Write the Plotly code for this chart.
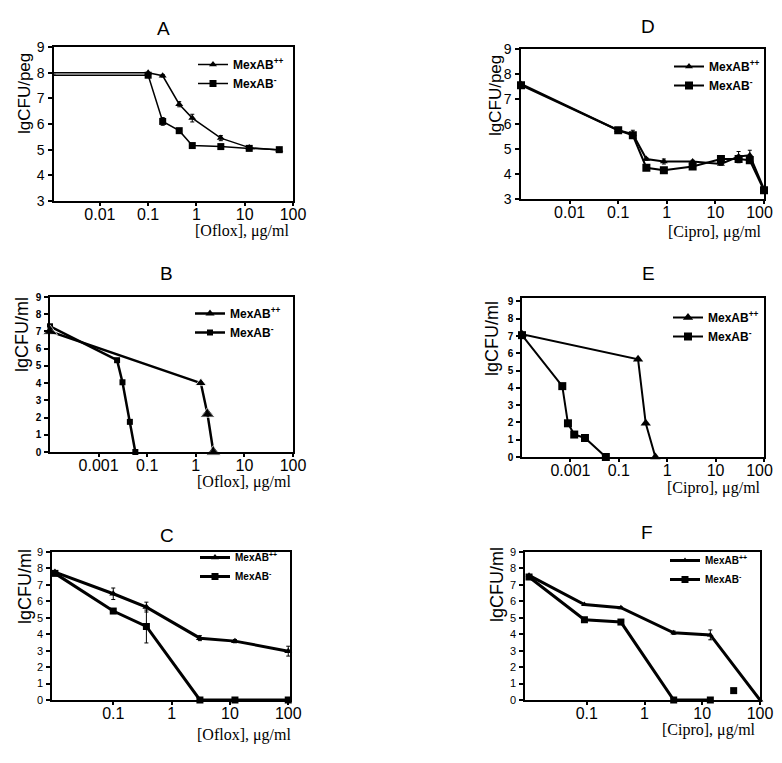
import plotly.graph_objects as go

# page is 782x763; the html body adds an 8px margin round the figure
OFF = 8
W, H = 782 - 2 * OFF, 763 - 2 * OFF

# ---------------- data ----------------
# Panel A  (Oflox, lgCFU/peg)
A_conc = [0.0011, 0.1, 0.2, 0.44, 0.82, 3.2, 12.4, 52]
A_pp = [8.0, 8.0, 7.88, 6.77, 6.23, 5.45, 5.08, 4.99]
A_pp_err = [0, 0, 0.05, 0.1, 0.15, 0.1, 0.05, 0.05]
A_m = [7.9, 7.9, 6.1, 5.74, 5.16, 5.12, 5.05, 5.0]
A_m_err = [0, 0.05, 0.15, 0.08, 0.05, 0.05, 0.05, 0.08]

# Panel D  (Cipro, lgCFU/peg)
D_conc = [0.001, 0.1, 0.2, 0.38, 0.87, 3.4, 13, 30, 51, 100]
D_pp = [7.6, 5.75, 5.6, 4.6, 4.5, 4.5, 4.4, 4.7, 4.75, 3.4]
D_pp_err = [0, 0.05, 0.15, 0.05, 0.1, 0.05, 0.05, 0.2, 0.2, 0.05]
D_m = [7.55, 5.75, 5.55, 4.25, 4.15, 4.3, 4.6, 4.6, 4.55, 3.35]
D_m_err = [0, 0.05, 0.1, 0.05, 0.05, 0.05, 0.05, 0.15, 0.1, 0.05]

# Panel B  (Oflox, lgCFU/ml)
B_conc_pp = [0.001, 1.27, 1.74, 2.3]
B_pp = [7.0, 4.0, 2.2, 0.0]
B_conc_m = [0.001, 0.024, 0.031, 0.044, 0.057]
B_m = [7.3, 5.33, 4.05, 1.75, 0.0]

# Panel E  (Cipro, lgCFU/ml)
E_conc_pp = [0.001, 0.25, 0.36, 0.57]
E_pp = [7.1, 5.65, 1.95, 0.0]
E_conc_m = [0.001, 0.0068, 0.0089, 0.012, 0.020, 0.054]
E_m = [7.05, 4.1, 1.95, 1.3, 1.1, 0.0]

# Panel C  (Oflox, lgCFU/ml)
C_conc = [0.01, 0.1, 0.37, 3.06, 12.2, 100]
C_pp = [7.78, 6.46, 5.65, 3.76, 3.58, 2.97]
C_pp_err = [0, 0.35, 0.3, 0.15, 0.1, 0.3]
C_m = [7.7, 5.41, 4.47, 0.0, 0.0, 0.0]
C_m_err = [0, 0.1, 1.0, 0, 0, 0]

# Panel F  (Cipro, lgCFU/ml)
F_conc_pp = [0.01, 0.091, 0.39, 3.2, 13.8, 100]
F_pp = [7.58, 5.81, 5.61, 4.09, 3.96, 0.0]
F_pp_err = [0, 0.05, 0.05, 0.1, 0.3, 0]
F_conc_m = [0.01, 0.091, 0.39, 3.2, 13.8, 35]
F_m = [7.48, 4.88, 4.74, 0.0, 0.0, 0.57]

# tick labels
TICKS_AD = [0.01, 0.1, 1, 10, 100]
TICKTEXT_A = ["0.01", "0.1", "1", "10", "100"]
TICKTEXT_D = ["0.01", "0.1", "1", "10", "100&nbsp;&nbsp;"]
TICKTEXT_B = ["0.001", "0.1", "1", "10", "100"]
TICKTEXT_E = ["0.001", "0.1", "1", "10", "100&nbsp;&nbsp;"]
TICKS_CF = [0.1, 1, 10, 100]
TICKTEXT_CF = ["0.1", "1", "10", "100"]

NAME_PP = "MexAB<sup>++</sup>"
NAME_M = "MexAB<sup>-</sup>"

SANS = "Liberation Sans, Arial, sans-serif"
SERIF = "Liberation Serif, Times New Roman, serif"


def fx(px):
    return (px - OFF) / W


def fy(py):
    return 1 - (py - OFF) / H


# positions below are page pixels
panels = [
    dict(key="A", dom=(54, 293, 47, 201), xr=(-2.95, 2.0), yr=(3, 9), xt=TICKS_AD, xtt=TICKTEXT_A,
         yt=list(range(3, 10)), ytf=dict(size=14, family=SANS, color="black"),
         title=(163, 28), ytitle=("lgCFU/peg", 25, 94, 17), xtitle=("[Oflox], μg/ml", 291, 231),
         leg=(193, 50, 12)),
    dict(key="B", dom=(50, 293, 297, 452), xr=(-3, 2), yr=(0, 9), xt=TICKS_AD, xtt=TICKTEXT_B,
         yt=list(range(0, 10)), ytf=dict(size=10, family=SANS, color="black", weight="bold"),
         title=(166, 273), ytitle=("lgCFU/ml", 22, 335, 18), xtitle=("[Oflox], μg/ml", 293, 482),
         leg=(190, 299, 12)),
    dict(key="C", dom=(52, 290, 552, 700), xr=(-2.05, 2.03), yr=(0, 9), xt=TICKS_CF, xtt=TICKTEXT_CF,
         yt=list(range(0, 10)), ytf=dict(size=11, family=SANS, color="black"),
         title=(167, 535), ytitle=("lgCFU/ml", 25, 587, 18), xtitle=("[Oflox], μg/ml", 293, 735),
         leg=(195, 543, 10)),
    dict(key="D", dom=(521, 764, 49, 199), xr=(-3, 2), yr=(3, 9), xt=TICKS_AD, xtt=TICKTEXT_D,
         yt=list(range(3, 10)), ytf=dict(size=14, family=SANS, color="black"),
         title=(648, 27), ytitle=("lgCFU/peg", 495, 96, 17), xtitle=("[Cipro], μg/ml", 764, 232),
         leg=(669, 52, 12)),
    dict(key="E", dom=(522, 764, 298, 457), xr=(-3, 2), yr=(0, 9.2), xt=TICKS_AD, xtt=TICKTEXT_E,
         yt=list(range(0, 10)), ytf=dict(size=10, family=SANS, color="black", weight="bold"),
         title=(648, 273), ytitle=("lgCFU/ml", 492, 339, 18), xtitle=("[Cipro], μg/ml", 763, 488),
         leg=(668, 303, 12)),
    dict(key="F", dom=(525, 760, 552, 700), xr=(-2.07, 2.0), yr=(0, 9), xt=TICKS_CF, xtt=TICKTEXT_CF,
         yt=list(range(0, 10)), ytf=dict(size=11, family=SANS, color="black"),
         title=(647, 532), ytitle=("lgCFU/ml", 497, 585, 18), xtitle=("[Cipro], μg/ml", 758, 730),
         leg=(665, 546, 10)),
]

fig = go.Figure()
layout = dict(width=W, height=H, margin=dict(l=0, r=0, t=0, b=0, autoexpand=False),
              paper_bgcolor="white", plot_bgcolor="white", showlegend=True)
annotations = []

for i, p in enumerate(panels, start=1):
    sfx = "" if i == 1 else str(i)
    x0, x1, y0, y1 = p["dom"]
    common_x = dict(type="log", range=list(p["xr"]), domain=[fx(x0), fx(x1)],
                    tickmode="array", tickvals=p["xt"], showgrid=False, zeroline=False)
    common_y = dict(range=list(p["yr"]), domain=[fy(y1), fy(y0)], tickmode="array",
                    tickvals=p["yt"], showgrid=False, zeroline=False)
    layout["xaxis" + sfx] = dict(common_x, anchor="y" + sfx, ticktext=p["xtt"], ticks="outside",
                                 ticklen=3, tickwidth=1.5, tickcolor="black", showline=True,
                                 linecolor="black", linewidth=1.5, mirror=True,
                                 ticklabelstandoff=-5, ticklabeloverflow="allow",
                                 tickfont=dict(size=16, family=SANS, color="black"))
    layout["yaxis" + sfx] = dict(common_y, anchor="x" + sfx, ticktext=[str(v) for v in p["yt"]],
                                 ticks="outside", ticklen=4, tickwidth=1.5, tickcolor="black",
                                 showline=True, linecolor="black", linewidth=1.5, mirror=True,
                                 tickfont=p["ytf"], ticklabelstandoff=1)
    # overlay axes giving the inner half of crossing tick marks
    j = i + 6
    layout["xaxis%d" % j] = dict(common_x, overlaying="x" + sfx, anchor="y" + sfx, ticks="inside",
                                 ticklen=4, tickwidth=1.5, tickcolor="black", showticklabels=False,
                                 showline=False)
    layout["yaxis%d" % j] = dict(common_y, overlaying="y" + sfx, anchor="x" + sfx, ticks="inside",
                                 ticklen=4, tickwidth=1.5, tickcolor="black", showticklabels=False,
                                 showline=False)
    lg = "legend" + sfx
    lx, ly, lfs = p["leg"]
    layout[lg] = dict(x=fx(lx), y=fy(ly), xanchor="left", yanchor="top", bgcolor="rgba(0,0,0,0)",
                      font=dict(size=lfs, family=SANS, color="black", weight="bold"),
                      tracegroupgap=0, itemwidth=30)
    tx, ty = p["title"]
    annotations.append(dict(text=p["key"], x=fx(tx), y=fy(ty), xref="paper", yref="paper",
                            xanchor="center", yanchor="middle",
                            showarrow=False, font=dict(size=19, family=SANS, color="black")))
    yt_text, ytx, yty, yfs = p["ytitle"]
    annotations.append(dict(text=yt_text, x=fx(ytx), y=fy(yty), xref="paper", yref="paper",
                            xanchor="center", yanchor="middle",
                            showarrow=False, textangle=-90,
                            font=dict(size=yfs, family=SANS, color="black")))
    xt_text, xtx, xty = p["xtitle"]
    annotations.append(dict(text=xt_text, x=fx(xtx), y=fy(xty), xref="paper", yref="paper",
                            xanchor="right", yanchor="middle", showarrow=False,
                            font=dict(size=16, family=SERIF, color="black")))


def add(ax, xs, ys, name, symbol, size, lw, legend, err=None, mode="lines+markers", showlegend=True):
    sfx = "" if ax == 1 else str(ax)
    kw = {}
    if err is not None:
        kw["error_y"] = dict(type="data", array=err, visible=True, color="black", thickness=1, width=2)
    fig.add_trace(go.Scatter(x=xs, y=ys, name=name, mode=mode, xaxis="x" + sfx, yaxis="y" + sfx,
                             line=dict(color="black", width=lw),
                             marker=dict(symbol=symbol, size=size, color="black"),
                             legend=legend, showlegend=showlegend, cliponaxis=False, **kw))


# A
add(1, A_conc, A_pp, NAME_PP, "triangle-up", 7, 1.5, "legend", A_pp_err)
add(1, A_conc, A_m, NAME_M, "square", 7, 1.5, "legend", A_m_err)
# B
add(2, B_conc_pp, B_pp, NAME_PP, "triangle-up", 8, 2.5, "legend2")
add(2, B_conc_m, B_m, NAME_M, "square", 6, 2.5, "legend2")
add(2, B_conc_pp, B_pp, NAME_PP, "triangle-up", [13, 10, 13, 13], 2.5, "legend2",
    mode="markers", showlegend=False)
# C
add(3, C_conc, C_pp, NAME_PP, "triangle-up", 7, 3, "legend3", C_pp_err)
add(3, C_conc, C_m, NAME_M, "square", 7, 3, "legend3", C_m_err)
# D
add(4, D_conc, D_pp, NAME_PP, "triangle-up", 7, 2, "legend4", D_pp_err)
add(4, D_conc, D_m, NAME_M, "square", 8, 2, "legend4", D_m_err)
# E
add(5, E_conc_pp, E_pp, NAME_PP, "triangle-up", 9, 2, "legend5")
add(5, E_conc_m, E_m, NAME_M, "square", 8, 2, "legend5")
# F
add(6, F_conc_pp, F_pp, NAME_PP, "triangle-up", 6, 3, "legend6", F_pp_err)
add(6, F_conc_m[:-1], F_m[:-1], NAME_M, "square", 7, 3, "legend6")
add(6, F_conc_m[-1:], F_m[-1:], NAME_M, "square", 7, 3, "legend6", mode="markers", showlegend=False)

layout["annotations"] = annotations
fig.update_layout(**layout)
fig.write_html("out.html")
